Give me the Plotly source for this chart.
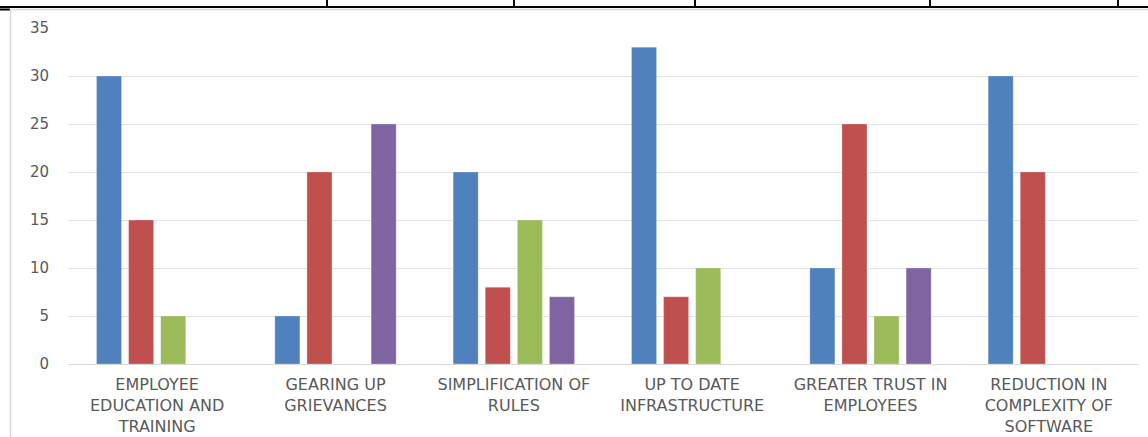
import plotly.graph_objects as go

categories = [
    "EMPLOYEE<br>EDUCATION AND<br>TRAINING",
    "GEARING UP<br>GRIEVANCES",
    "SIMPLIFICATION OF<br>RULES",
    "UP TO DATE<br>INFRASTRUCTURE",
    "GREATER TRUST IN<br>EMPLOYEES",
    "REDUCTION IN<br>COMPLEXITY OF<br>SOFTWARE",
]
series1 = [30, 5, 20, 33, 10, 30]
series2 = [15, 20, 8, 7, 25, 20]
series3 = [5, 0, 15, 10, 5, 0]
series4 = [0, 25, 7, 0, 10, 0]
series_names = ["Series 1", "Series 2", "Series 3", "Series 4"]
colors = ["#4F81BD", "#C0504D", "#9BBB59", "#8064A2"]
y_ticks = [0, 5, 10, 15, 20, 25, 30, 35]

W, H = 1148, 437
ML, MR, MT, MB = 68, 10, 28, 73

fig = go.Figure()
for name, vals, col in zip(series_names, [series1, series2, series3, series4], colors):
    fig.add_trace(go.Bar(x=categories, y=vals, name=name,
                         marker=dict(color=col, line=dict(color="rgba(255,255,255,0.5)", width=0.5))))

pw = W - ML - MR
ph = H - MT - MB
def px_x(x):
    return (x - ML) / pw
def px_y(y):
    return (H - MB - y) / ph

shapes = []
# top black rule
shapes.append(dict(type="line", xref="paper", yref="paper", x0=px_x(0), x1=px_x(W), y0=px_y(7), y1=px_y(7),
                   line=dict(color="black", width=2)))
for xv in [327, 514, 695, 930, 1118]:
    shapes.append(dict(type="line", xref="paper", yref="paper", x0=px_x(xv), x1=px_x(xv), y0=px_y(0), y1=px_y(7),
                       line=dict(color="black", width=2)))
shapes.append(dict(type="line", xref="paper", yref="paper", x0=px_x(0), x1=px_x(10), y0=px_y(9.5), y1=px_y(9.5),
                   line=dict(color="black", width=2)))
# chart frame (light gray)
shapes.append(dict(type="line", xref="paper", yref="paper", x0=px_x(11), x1=px_x(W), y0=px_y(9.5), y1=px_y(9.5),
                   line=dict(color="#D9D9D9", width=1.5)))
shapes.append(dict(type="line", xref="paper", yref="paper", x0=px_x(10.5), x1=px_x(10.5), y0=px_y(9), y1=px_y(H),
                   line=dict(color="#D9D9D9", width=1.5)))

FONT = "DejaVu Sans, Verdana, sans-serif"
fig.update_layout(
    width=W, height=H,
    margin=dict(l=ML, r=MR, t=MT, b=MB, pad=0, autoexpand=False),
    paper_bgcolor="white", plot_bgcolor="white",
    barmode="group", bargap=0.28, bargroupgap=0.22,
    showlegend=False,
    font=dict(family=FONT, color="#595959", size=15),
    shapes=shapes,
    xaxis=dict(showgrid=False, showline=True, linecolor="#D9D9D9", linewidth=1, automargin=False,
               tickfont=dict(family=FONT, size=16, color="#595959"), ticks="", ticklabelstandoff=6),
    yaxis=dict(range=[0, 35], tickvals=y_ticks, showgrid=True, gridcolor="#E3E3E3", gridwidth=1,
               zeroline=False, showline=False, ticks="", ticklabelstandoff=18, automargin=False,
               tickfont=dict(family=FONT, size=15, color="#595959")),
)

fig.write_html("out.html")
